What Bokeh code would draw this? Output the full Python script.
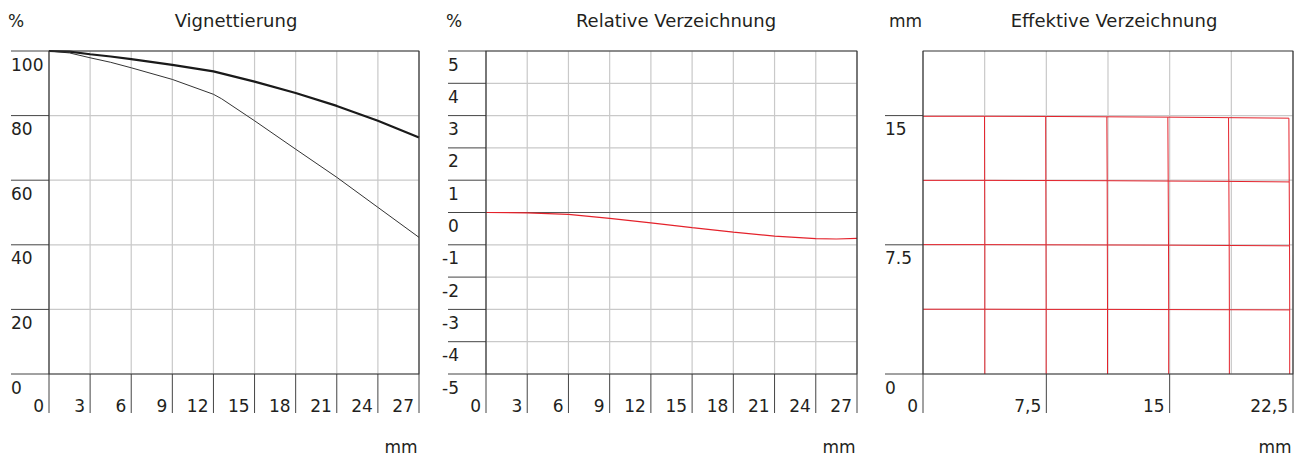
from bokeh.plotting import figure
from bokeh.models import Range1d
from bokeh.layouts import row
from bokeh.core.properties import value
from bokeh.embed import file_html
from bokeh.resources import INLINE

# ---------------- data ----------------
# Vignettierung (%), image height in mm
vig_thick_x = [0, 1.5, 3, 4.5, 6, 9, 12, 15, 18, 21, 24, 27]
vig_thick = [100, 99.8, 99.0, 98.3, 97.5, 95.7, 93.7, 90.5, 87.0, 83.0, 78.4, 73.2]
vig_thin_x = [0, 1.5, 3, 4.5, 6, 9, 12, 12.6, 15, 18, 21, 24, 27]
vig_thin = [100, 99.4, 97.9, 96.5, 94.8, 91.2, 86.6, 85.2, 78.4, 69.6, 60.9, 51.6, 42.3]
vig_x_ticks = [0, 3, 6, 9, 12, 15, 18, 21, 24, 27]
vig_x_labels = ["0", "3", "6", "9", "12", "15", "18", "21", "24", "27"]
vig_y_ticks = [0, 20, 40, 60, 80, 100]
vig_y_labels = ["0", "20", "40", "60", "80", "100"]

# Relative Verzeichnung (%)
rel_x = [0, 3, 6, 9, 12, 15, 18, 21, 24, 25.5, 27]
rel_dist = [0, -0.01, -0.06, -0.18, -0.32, -0.47, -0.61, -0.73, -0.81, -0.82, -0.80]
rel_x_ticks = [0, 3, 6, 9, 12, 15, 18, 21, 24, 27]
rel_x_labels = ["0", "3", "6", "9", "12", "15", "18", "21", "24", "27"]
rel_y_ticks = [-5, -4, -3, -2, -1, 0, 1, 2, 3, 4, 5]
rel_y_labels = ["-5", "-4", "-3", "-2", "-1", "0", "1", "2", "3", "4", "5"]

# Effektive Verzeichnung (mm): distorted grid
eff_cols = [0, 3.75, 7.5, 11.25, 15, 18.75, 22.5]
eff_rows = [0, 3.75, 7.5, 11.25, 15]
eff_vx = [  # x of each vertical grid line, at each row
    [0, 0, 0, 0, 0],
    [3.76, 3.76, 3.76, 3.75, 3.74],
    [7.49, 7.49, 7.48, 7.47, 7.46],
    [11.22, 11.22, 11.21, 11.20, 11.18],
    [14.94, 14.94, 14.93, 14.91, 14.89],
    [18.63, 18.63, 18.62, 18.60, 18.58],
    [22.30, 22.30, 22.29, 22.27, 22.25],
]
eff_hy = [  # y of each horizontal grid line, at each column
    [0, 0, 0, 0, 0, 0, 0],
    [3.76, 3.76, 3.75, 3.75, 3.74, 3.73, 3.72],
    [7.51, 7.51, 7.50, 7.49, 7.48, 7.46, 7.44],
    [11.24, 11.24, 11.23, 11.22, 11.20, 11.18, 11.15],
    [14.96, 14.96, 14.95, 14.93, 14.91, 14.88, 14.85],
]
eff_x_ticks = [0, 7.5, 15, 22.5]
eff_x_labels = ["0", "7,5", "15", "22,5"]
eff_y_ticks = [0, 7.5, 15]
eff_y_labels = ["0", "7.5", "15"]

# ---------------- styling / layout ----------------
FONT = "DejaVu Sans"
TXT = "#231f20"
GRID = "#c9c9c9"
FRAME = "#333333"
TICK = "#444444"
RED = "#e4222b"
H = 457
T, B = 50.5, 373.5          # plot-area top / bottom (px)
TICK_Y = 38                  # outward length of y ticks (px)
TICK_X = 39                  # outward length of x ticks (px)


def make_panel(fig_w, L, R, xmax, ymin, ymax, grid_x, grid_y,
               tick_x, tick_y, lab_x, lab_y, title, unit, title_dx, unit_dx,
               neg_shift=0.0):
    sx = (R - L) / xmax
    sy = (B - T) / (ymax - ymin)
    p = figure(width=fig_w, height=H,
               x_range=Range1d(-L / sx, xmax + (fig_w - R) / sx),
               y_range=Range1d(ymin - (H - B) / sy, ymax + T / sy),
               x_axis_location=None, y_axis_location=None,
               output_backend="svg", toolbar_location=None,
               min_border=0, outline_line_color=None)
    p.background_fill_color = "white"
    p.border_fill_color = "white"
    p.grid.visible = False

    # grid lines inside the plot area
    p.segment(x0=grid_x, y0=[ymin] * len(grid_x), x1=grid_x, y1=[ymax] * len(grid_x),
              line_color=GRID, line_width=1.2)
    p.segment(x0=[0] * len(grid_y), y0=grid_y, x1=[xmax] * len(grid_y), y1=grid_y,
              line_color=GRID, line_width=1.2)

    # outward tick marks
    p.segment(x0=[-TICK_Y / sx] * len(tick_y), y0=tick_y, x1=[0] * len(tick_y), y1=tick_y,
              line_color=TICK, line_width=1)
    p.segment(x0=tick_x, y0=[ymin - TICK_X / sy] * len(tick_x), x1=tick_x,
              y1=[ymin] * len(tick_x), line_color=TICK, line_width=1)

    # x tick labels: right-aligned just left of each tick line
    p.text(x=tick_x, y=[ymin] * len(tick_x), text=lab_x,
           x_offset=-5, y_offset=31, text_align="right", text_baseline="alphabetic",
           text_font=value(FONT), text_font_size=value("17px"), text_color=TXT)
    # y tick labels: below each tick line, left aligned
    xo = [(-38 - neg_shift) if t.startswith("-") else -38 for t in lab_y]
    p.text(x=[0] * len(tick_y), y=tick_y, text=lab_y,
           x_offset=xo, y_offset=13, text_align="left", text_baseline="alphabetic",
           text_font=value(FONT), text_font_size=value("17px"), text_color=TXT)
    # title, unit labels
    p.text(x=[xmax / 2], y=[ymax], text=[title], x_offset=title_dx, y_offset=-30.5,
           text_align="center", text_baseline="alphabetic",
           text_font=value(FONT), text_font_size=value("18px"), text_color=TXT)
    p.text(x=[0], y=[ymax], text=[unit], x_offset=unit_dx, y_offset=-30,
           text_align="left", text_baseline="alphabetic",
           text_font=value(FONT), text_font_size=value("17px"), text_color=TXT)
    p.text(x=[xmax], y=[ymin], text=["mm"], x_offset=-1.5, y_offset=72.5,
           text_align="right", text_baseline="alphabetic",
           text_font=value(FONT), text_font_size=value("17px"), text_color=TXT)
    return p


def add_frame(p, xmax, ymin, ymax):
    p.quad(left=[0], right=[xmax], bottom=[ymin], top=[ymax],
           fill_color=None, line_color=FRAME, line_width=1.2)


# Panel 1: Vignettierung
p1 = make_panel(438, 48.5, 418.5, 27, 0, 100, vig_x_ticks, vig_y_ticks,
                vig_x_ticks, vig_y_ticks, vig_x_labels, vig_y_labels,
                "Vignettierung", "%", 2, -41)
p1.line(vig_thin_x, vig_thin, line_color="#333333", line_width=1)
p1.line(vig_thick_x, vig_thick, line_color="#1a1a1a", line_width=2.2)
add_frame(p1, 27, 0, 100)

# Panel 2: Relative Verzeichnung
p2 = make_panel(430, 47.5, 418.5, 27, -5, 5, rel_x_ticks, rel_y_ticks,
                rel_x_ticks, rel_y_ticks, rel_x_labels, rel_y_labels,
                "Relative Verzeichnung", "%", 4.5, -40, neg_shift=6)
p2.segment(x0=[rel_x[0]], y0=[0], x1=[rel_x[-1]], y1=[0],
           line_color="#555555", line_width=1)
p2.line(rel_x, rel_dist, line_color=RED, line_width=1.2)
add_frame(p2, 27, -5, 5)

# Panel 3: Effektive Verzeichnung
p3 = make_panel(438, 54.5, 424.5, 22.5, 0, 18.75, eff_cols, eff_rows,
                eff_x_ticks, eff_y_ticks, eff_x_labels, eff_y_labels,
                "Effektive Verzeichnung", "mm", 6, -34)
h_xs = [[eff_vx[j][i] for j in range(len(eff_cols))] for i in range(1, len(eff_rows))]
h_ys = [eff_hy[i] for i in range(1, len(eff_rows))]
v_xs = [eff_vx[j] for j in range(1, len(eff_cols))]
v_ys = [[eff_hy[i][j] for i in range(len(eff_rows))] for j in range(1, len(eff_cols))]
p3.multi_line(h_xs + v_xs, h_ys + v_ys, line_color=RED, line_width=1)
add_frame(p3, 22.5, 0, 18.75)

layout = row(p1, p2, p3, spacing=0)
open("out.html", "w").write(file_html(layout, INLINE))
